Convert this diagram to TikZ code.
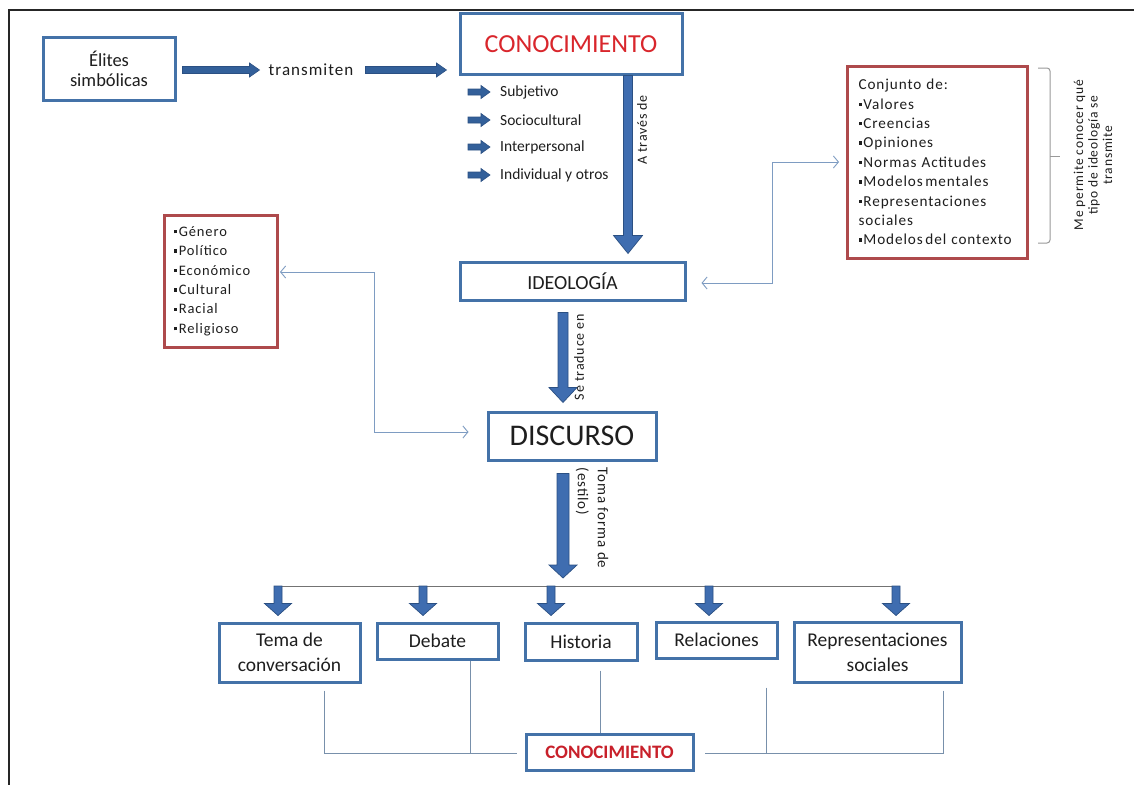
\documentclass[tikz,border=0pt]{standalone}
\usepackage{fontspec}
\setmainfont{Carlito}
\newfontfamily\spc{Carlito}[LetterSpace=6]
\usetikzlibrary{arrows.meta,calc}
\definecolor{bbord}{HTML}{4472A8}
\definecolor{rbord}{HTML}{AE4A4C}
\definecolor{arrc}{HTML}{3F6DB0}
\definecolor{arrd}{HTML}{2B5083}
\definecolor{harr}{HTML}{33609A}
\definecolor{thinblue}{HTML}{7E9CC2}
\definecolor{botline}{HTML}{7890AB}
\definecolor{txt}{HTML}{1E1E1E}
\definecolor{redt}{HTML}{D9262C}
\definecolor{redb}{HTML}{C8202A}
\newcommand{\bul}{\raisebox{0.2em}{\rule{3.3pt}{3.3pt}}\hspace{1.6pt}}
% vertical block arrow: start, tip, shaft half width, head half width, head length
\newcommand{\blkv}[5]{%
  \filldraw[fill=arrc,draw=arrd,line width=0.7pt,line join=miter]
    let \p1=#1, \p2=#2 in
    (\x1-#3,\y1) -- (\x1+#3,\y1) -- (\x1+#3,\y2+#5) -- (\x1+#4,\y2+#5)
    -- (\x1,\y2) -- (\x1-#4,\y2+#5) -- (\x1-#3,\y2+#5) -- cycle;}
% horizontal block arrow
\newcommand{\blkh}[5]{%
  \filldraw[fill=harr,draw=arrd,line width=0.6pt,line join=miter]
    let \p1=#1, \p2=#2 in
    (\x1,\y1+#3) -- (\x2-#5,\y1+#3) -- (\x2-#5,\y1+#4) -- (\x2,\y1)
    -- (\x2-#5,\y1-#4) -- (\x2-#5,\y1-#3) -- (\x1,\y1-#3) -- cycle;}
\begin{document}
\begin{tikzpicture}[x=1pt,y=-1pt,
  bluebox/.style={draw=bbord,line width=3pt,fill=white,align=center,inner sep=2pt,text=txt},
  redbox/.style={draw=rbord,line width=3pt,fill=white,align=left,inner ysep=2pt,text=txt},
  lab/.style={inner sep=0pt,text=txt},
  thinc/.style={draw=thinblue,line width=0.9pt,
    arrows={Straight Barb[length=5pt,width=12pt]-Straight Barb[length=5pt,width=12pt]}},
  botc/.style={draw=botline,line width=1pt},
  brk/.style={draw=black!40,line width=1pt,rounded corners=3pt}]
\useasboundingbox (0,0) rectangle (1134,784);
\fill[white] (0,0) rectangle (1134,784);
\draw[line width=2pt,black!85] (9,790) -- (9,10) -- (1140,10);

% top row
\node[bluebox,minimum width=132pt,minimum height=62pt,font=\fontsize{18.5}{19.5}\selectfont] (elites) at (109,69) {Élites\\simbólicas};
\node[lab,font=\spc\fontsize{17}{19}\selectfont] (trans) at (311,70) {transmiten};
\node[bluebox,minimum width=222pt,minimum height=60pt,font=\fontsize{26}{28}\selectfont,text=redt] (conoc) at (571,44) {CONOCIMIENTO};
\blkh{($(elites.east)+(6,1)$)}{($(trans.west)+(-9,0)$)}{3.5pt}{7pt}{10pt}
\blkh{($(trans.east)+(12,0)$)}{($(conoc.west)+(-12,26)$)}{3.5pt}{7pt}{10pt}

% sub list
\node[lab,anchor=west,font=\fontsize{15.5}{18}\selectfont] (s1) at (500,92) {Subjetivo};
\node[lab,anchor=west,font=\fontsize{15.5}{18}\selectfont] (s2) at (500,120) {Sociocultural};
\node[lab,anchor=west,font=\fontsize{15.5}{18}\selectfont] (s3) at (500,147) {Interpersonal};
\node[lab,anchor=west,font=\fontsize{15.5}{18}\selectfont] (s4) at (500,175) {Individual y otros};
\foreach \s in {s1,s2,s3,s4}{
  \blkh{($(\s.west)+(-32,0)$)}{($(\s.west)+(-10,0)$)}{3pt}{6.5pt}{9pt}
}

% ideologia
\node[bluebox,minimum width=225pt,minimum height=38pt,font=\fontsize{20}{22}\selectfont] (ideo) at (572.5,281) {IDEOLOGÍA};
\blkv{($(conoc.south)+(57,0)$)}{($(ideo.north)+(55.5,-7)$)}{4.5pt}{14.5pt}{18pt}
\node[lab,rotate=90,font=\spc\fontsize{14}{16}\selectfont] (lab1) at (642,130) {A través de};

% right red box
\node[redbox,minimum width=179pt,minimum height=192pt,inner xsep=11pt,text width=158pt,
  font=\spc\fontsize{15.2}{19.4}\selectfont] (red1) at (937.5,162)
  {Conjunto de:\\\bul Valores\\\bul Creencias\\\bul Opiniones\\\bul Normas Actitudes\\\bul Modelos\,mentales\\\bul Representaciones\\sociales\\\bul Modelos\,del contexto};
\draw[brk] (1038,68) -- (1050,68) -- (1050,243) -- (1038,243);
\draw[brk] (1050,156) -- (1060,156);
\node[lab,rotate=90,align=center,font=\spc\fontsize{13.5}{14.5}\selectfont] (note) at (1093,155)
  {Me permite conocer qué\\tipo de ideología se\\transmite};
\coordinate (g2) at (772,283);
\draw[thinc] ($(ideo.east)+(15,2)$) -- (g2) |- ($(red1.west)+(-7,0)$);

% left red box
\node[redbox,minimum width=113pt,minimum height=132pt,inner xsep=10pt,text width=93pt,
  font=\spc\fontsize{14.5}{19.4}\selectfont] (red2) at (220.5,281)
  {\bul Género\\\bul Político\\\bul Económico\\\bul Cultural\\\bul Racial\\\bul Religioso};

% discurso
\node[bluebox,minimum width=168pt,minimum height=48pt,font=\fontsize{30}{34}\selectfont] (disc) at (572,436) {DISCURSO};
\blkv{($(ideo.south)+(-9.5,11)$)}{($(disc.north)+(-9,-8)$)}{5pt}{14pt}{15pt}
\node[lab,rotate=90,font=\spc\fontsize{14}{16}\selectfont] (lab2) at (579,357) {Se traduce en};
\coordinate (g1) at (374,272);
\draw[thinc] ($(red2.east)+(1.5,-9)$) -- (g1) |- ($(disc.west)+(-18,-4)$);

% toma forma
\coordinate (bar1) at (278,586);
\coordinate (bar2) at (896,586);
\coordinate (barm) at (563,586);
\draw[draw=black!55,line width=1pt] (bar1) -- (bar2);
\blkv{($(disc.south)+(-9,12)$)}{($(barm)+(0,-8)$)}{6pt}{14pt}{13pt}
\node[lab,rotate=-90,align=left,font=\spc\fontsize{15}{20}\selectfont] (lab3) at (592,518) {Toma forma de\\(estilo)};

% bottom boxes
\node[bluebox,minimum width=141pt,minimum height=59pt,font=\fontsize{19.5}{25}\selectfont] (tema) at (289.5,652.5) {Tema de\\conversación};
\node[bluebox,minimum width=121pt,minimum height=36pt,font=\fontsize{19.5}{25}\selectfont] (debate) at (437.5,641) {Debate};
\node[bluebox,minimum width=112pt,minimum height=37pt,font=\fontsize{19.5}{25}\selectfont] (hist) at (581,641.5) {Historia};
\node[bluebox,minimum width=121pt,minimum height=36pt,font=\fontsize{19.5}{25}\selectfont] (rel) at (716.5,640) {Relaciones};
\node[bluebox,minimum width=167pt,minimum height=60pt,font=\fontsize{19.5}{25}\selectfont] (rep) at (877.5,652) {Representaciones\\sociales};

\blkv{(bar1)}{($(tema.north)+(-11.5,-6)$)}{4pt}{13.5pt}{12pt}
\blkv{($(bar1)+(145,0)$)}{($(debate.north)+(-14.5,-6)$)}{4pt}{13.5pt}{12pt}
\blkv{($(bar1)+(273,0)$)}{($(hist.north)+(-30,-6)$)}{4pt}{13.5pt}{12pt}
\blkv{($(bar1)+(431,0)$)}{($(rel.north)+(-7.5,-5)$)}{4pt}{13.5pt}{12pt}
\blkv{(bar2)}{($(rep.north)+(18.5,-5)$)}{4pt}{13.5pt}{12pt}

% bottom conocimiento
\node[bluebox,minimum width=167pt,minimum height=36pt,font=\bfseries\fontsize{19}{22}\selectfont,text=redb] (conoc2) at (609.5,752) {CONOCIMIENTO};
\coordinate (hb) at ($(conoc2.west)+(0,1)$);
\coordinate (d1) at ($(debate.south)+(32.5,0)$);
\coordinate (h1) at ($(hist.south)+(19,9)$);
\coordinate (r1) at ($(rel.south)+(49.5,28)$);
\draw[botc] ($(tema.south)+(34.5,7)$) |- ($(conoc2.west)+(-8,1)$);
\draw[botc] (d1) -- (d1 |- hb);
\draw[botc] (h1) -- (h1 |- conoc2.north);
\draw[botc] (r1) -- (r1 |- hb);
\draw[botc] ($(rep.south)+(65.5,7)$) |- ($(conoc2.east)+(10,1)$);
\end{tikzpicture}
\end{document}
